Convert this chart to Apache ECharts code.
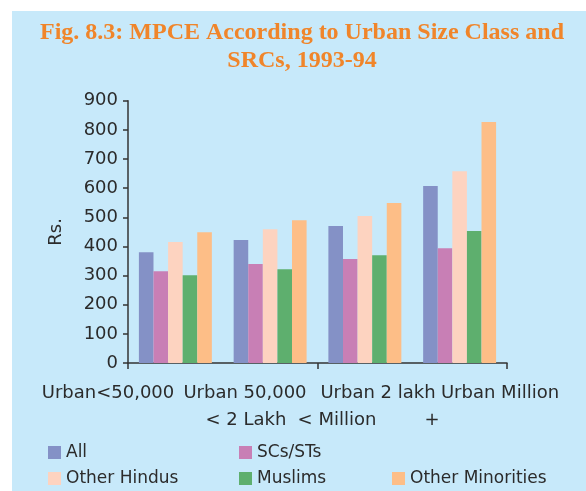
<!DOCTYPE html>
<html>
<head>
<meta charset="utf-8">
<script src="https://cdn.jsdelivr.net/npm/echarts@6/dist/echarts.min.js"></script>
<style>
  html, body { margin: 0; padding: 0; background: #ffffff; }
  #chart { width: 586px; height: 491px; }
</style>
</head>
<body>
<div id="chart"></div>
<script>
// Urban size classes (category axis) and the two-line labels printed beneath them
const categories = ['Urban<50,000', 'Urban 50,000 < 2 Lakh', 'Urban 2 lakh < Million', 'Urban Million +'];
const labelLine1 = ['Urban<50,000', 'Urban 50,000', 'Urban 2 lakh', 'Urban Million'];
const labelLine2 = ['', '< 2 Lakh', '< Million', '+'];

// MPCE (Rs.) by social-religious category
const seriesNames = ['All', 'SCs/STs', 'Other Hindus', 'Muslims', 'Other Minorities'];
const allGroups = [380, 422, 470, 607];
const scst = [315, 340, 357, 394];
const otherHindus = [415, 459, 504, 658];
const muslims = [301, 322, 370, 453];
const otherMinorities = [449, 490, 549, 827];

const yTicks = [0, 100, 200, 300, 400, 500, 600, 700, 800, 900];

const colors = ['#8491C6', '#C87FB5', '#FDD3C0', '#5EAF6E', '#FDBE87'];
const values = [allGroups, scst, otherHindus, muslims, otherMinorities];

const chart = echarts.init(document.getElementById('chart'), null, { renderer: 'canvas' });

const sansFont = 'DejaVu Sans';
const textColor = '#2b2b2b';

// label anchor positions under the axis (hand-set, the labels run on from one another)
const line1X = [108, 245, 378, 500];
const line2X = [108, 246, 337, 432];
// legend laid out in a 3-column grid
const legendPos = [[48, 444], [239, 444], [48, 470], [239, 470], [392, 470]];

const option = {
  backgroundColor: '#ffffff',
  animation: false,
  graphic: [
    { type: 'rect', left: 12, top: 11, shape: { width: 574, height: 480 }, style: { fill: '#C7E9FA' }, z: -10 },
    {
      type: 'text', x: 302, y: 19,
      style: {
        text: 'Fig. 8.3: MPCE According to Urban Size Class and\nSRCs, 1993-94',
        fill: '#F0852A', font: 'bold 24px "Liberation Serif"', align: 'center', verticalAlign: 'top', lineHeight: 28
      }
    }
  ].concat(labelLine1.map((t, i) => ({
    type: 'text', style: { text: t, fill: textColor, font: '18px "' + sansFont + '"', align: 'center', verticalAlign: 'middle' },
    x: line1X[i], y: 393
  }))).concat(labelLine2.map((t, i) => ({
    type: 'text', style: { text: t, fill: textColor, font: '18px "' + sansFont + '"', align: 'center', verticalAlign: 'middle' },
    x: line2X[i], y: 420
  }))),
  legend: seriesNames.map((n, i) => ({
    data: [n], left: legendPos[i][0], top: legendPos[i][1], padding: 0,
    icon: 'rect', itemWidth: 13, itemHeight: 13, itemGap: 0,
    textStyle: { fontFamily: sansFont, fontSize: 17, color: textColor }
  })),
  grid: { left: 128, right: 79, top: 100.7, bottom: 128, containLabel: false },
  xAxis: {
    type: 'category', data: categories,
    axisLine: { lineStyle: { color: '#333', width: 1.5 } },
    axisTick: { show: true, length: 6, lineStyle: { color: '#333', width: 1.5 } },
    axisLabel: { show: false }
  },
  yAxis: {
    type: 'value', min: 0, max: 900, interval: 100,
    name: 'Rs.', nameLocation: 'middle', nameGap: 63, nameRotate: 90,
    nameTextStyle: { fontFamily: sansFont, fontSize: 18, color: textColor },
    splitLine: { show: false },
    axisLine: { show: true, lineStyle: { color: '#333', width: 1.5 } },
    axisTick: { show: true, length: 5, lineStyle: { color: '#333', width: 1.5 } },
    axisLabel: {
      fontFamily: sansFont, fontSize: 18, color: textColor, margin: 10,
      formatter: v => (yTicks.indexOf(v) >= 0 ? String(v) : '')
    }
  },
  series: seriesNames.map((n, i) => ({
    name: n, type: 'bar', data: values[i],
    itemStyle: { color: colors[i] },
    barGap: '0%', barCategoryGap: '23%'
  }))
};

chart.setOption(option);
</script>
</body>
</html>
